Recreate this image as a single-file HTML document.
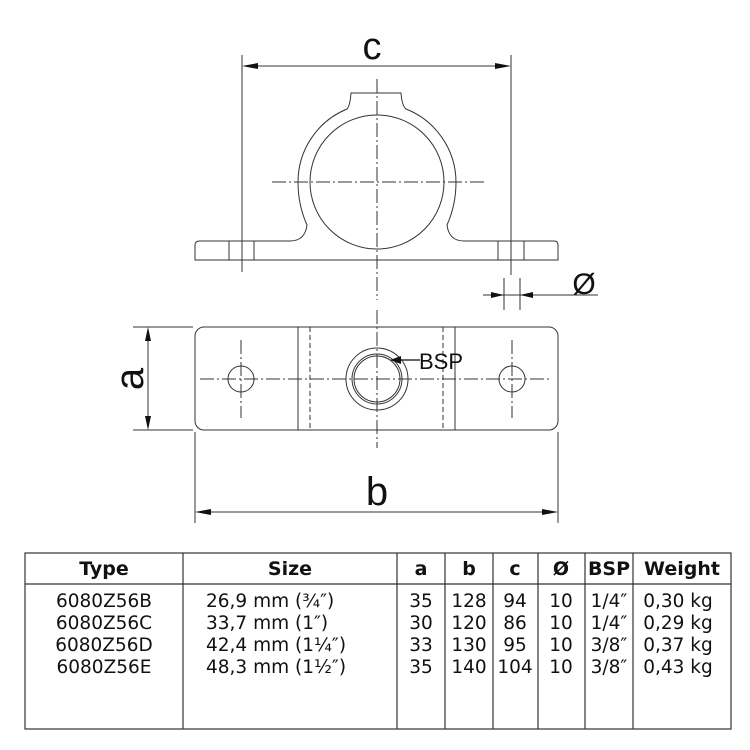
<!DOCTYPE html>
<html><head><meta charset="utf-8"><style>
body{margin:0;background:#fff;}
svg{display:block}
.t{font-family:"DejaVu Sans","Liberation Sans",sans-serif;font-size:18.5px;fill:#111}
.h{font-family:"DejaVu Sans","Liberation Sans",sans-serif;font-size:19px;font-weight:bold;fill:#111}
.L{font-family:"Liberation Sans",sans-serif;fill:#111}
</style></head><body>
<svg width="750" height="750" viewBox="0 0 750 750" xmlns="http://www.w3.org/2000/svg">
<g fill="none" stroke="#333" stroke-width="1">
<line x1="242" y1="55" x2="242" y2="272"/>
<line x1="511" y1="55" x2="511" y2="275"/>
<line x1="244" y1="66" x2="509" y2="66"/>
<path d="M200,241 L290,241 Q305,241 307,225 Q298,205 298,182 A79,79 0 0 1 347,109 Q350,106 351,93 L401,93 Q402,106 406,109 A79,79 0 0 1 456,182 Q456,205 447,225 Q449,241 464,241 L554,241 Q558,241 558,245 L558,260 L195,260 L195,245 Q195,241 200,241 Z"/>
<circle cx="377" cy="182" r="67"/>
<line x1="229" y1="241" x2="229" y2="260"/>
<line x1="254" y1="241" x2="254" y2="260"/>
<line x1="498" y1="241" x2="498" y2="260"/>
<line x1="524" y1="241" x2="524" y2="260"/>
<line x1="377" y1="79" x2="377" y2="300" stroke-dasharray="14,3,2,3"/>
<line x1="272" y1="182" x2="485" y2="182" stroke-dasharray="14,3,2,3"/>
<line x1="504" y1="278" x2="504" y2="310"/>
<line x1="520" y1="278" x2="520" y2="310"/>
<line x1="483" y1="295" x2="598" y2="295"/>
<rect x="195" y="327" width="363" height="103" rx="9"/>
<line x1="298" y1="327" x2="298" y2="430"/>
<line x1="455" y1="327" x2="455" y2="430"/>
<line x1="310" y1="327" x2="310" y2="430" stroke-dasharray="5,3"/>
<line x1="443" y1="327" x2="443" y2="430" stroke-dasharray="5,3"/>
<circle cx="377" cy="379" r="31"/>
<circle cx="377" cy="379" r="25"/>
<circle cx="377" cy="379" r="23"/>
<circle cx="241" cy="379" r="13"/>
<circle cx="512" cy="379" r="13"/>
<line x1="200" y1="379" x2="552" y2="379" stroke-dasharray="14,3,2,3"/>
<line x1="377" y1="310" x2="377" y2="448" stroke-dasharray="14,3,2,3"/>
<line x1="241" y1="340" x2="241" y2="418" stroke-dasharray="14,3,2,3"/>
<line x1="512" y1="340" x2="512" y2="418" stroke-dasharray="14,3,2,3"/>
<line x1="133" y1="327" x2="193" y2="327"/>
<line x1="133" y1="430" x2="193" y2="430"/>
<line x1="148" y1="329" x2="148" y2="428"/>
<line x1="195" y1="432" x2="195" y2="523"/>
<line x1="558" y1="432" x2="558" y2="523"/>
<line x1="197" y1="512" x2="556" y2="512"/>
<line x1="395" y1="360" x2="420" y2="360" stroke-width="1.5"/>
</g>
<g fill="#111">
<polygon points="242,66 258,63 258,69"/>
<polygon points="511,66 495,63 495,69"/>
<polygon points="504,295 491,292 491,298"/>
<polygon points="520,295 533,292 533,298"/>
<polygon points="148,327 145,341 151,341"/>
<polygon points="148,430 145,416 151,416"/>
<polygon points="195,512 211,509 211,515"/>
<polygon points="558,512 542,509 542,515"/>
<polygon points="390,360 401,356 401,364"/>
</g>
<text class="L" x="372" y="59" font-size="38" text-anchor="middle">c</text>
<text class="L" x="584" y="294" font-size="30" text-anchor="middle">Ø</text>
<text class="L" x="441" y="369" font-size="22" text-anchor="middle">BSP</text>
<text class="L" x="377" y="505" font-size="40" text-anchor="middle">b</text>
<text class="L" font-size="40" text-anchor="middle" transform="translate(143,379) rotate(-90)">a</text>
<g fill="none" stroke="#333" stroke-width="1.2">
<rect x="25" y="553" width="706" height="176"/>
<line x1="25" y1="584" x2="731" y2="584"/>
<line x1="183" y1="553" x2="183" y2="729"/>
<line x1="397" y1="553" x2="397" y2="729"/>
<line x1="445" y1="553" x2="445" y2="729"/>
<line x1="493" y1="553" x2="493" y2="729"/>
<line x1="538" y1="553" x2="538" y2="729"/>
<line x1="585" y1="553" x2="585" y2="729"/>
<line x1="633" y1="553" x2="633" y2="729"/>
</g>
<g class="h" text-anchor="middle">
<text x="104" y="575">Type</text><text x="290" y="575">Size</text><text x="421" y="575">a</text><text x="469" y="575">b</text><text x="515" y="575">c</text><text x="561" y="575">Ø</text><text x="609" y="575">BSP</text><text x="682" y="575">Weight</text>
</g>
<g class="t">
<text x="104" y="607" text-anchor="middle">6080Z56B</text><text x="104" y="629" text-anchor="middle">6080Z56C</text><text x="104" y="651" text-anchor="middle">6080Z56D</text><text x="104" y="673" text-anchor="middle">6080Z56E</text>
<text x="206" y="607">26,9 mm (¾″)</text><text x="206" y="629">33,7 mm (1″)</text><text x="206" y="651">42,4 mm (1¼″)</text><text x="206" y="673">48,3 mm (1½″)</text>
<g text-anchor="middle">
<text x="421" y="607">35</text><text x="421" y="629">30</text><text x="421" y="651">33</text><text x="421" y="673">35</text>
<text x="469" y="607">128</text><text x="469" y="629">120</text><text x="469" y="651">130</text><text x="469" y="673">140</text>
<text x="515" y="607">94</text><text x="515" y="629">86</text><text x="515" y="651">95</text><text x="515" y="673">104</text>
<text x="561" y="607">10</text><text x="561" y="629">10</text><text x="561" y="651">10</text><text x="561" y="673">10</text>
<text x="609" y="607">1/4″</text><text x="609" y="629">1/4″</text><text x="609" y="651">3/8″</text><text x="609" y="673">3/8″</text>
<text x="678" y="607">0,30 kg</text><text x="678" y="629">0,29 kg</text><text x="678" y="651">0,37 kg</text><text x="678" y="673">0,43 kg</text>
</g>
</g>
</svg>
</body></html>
